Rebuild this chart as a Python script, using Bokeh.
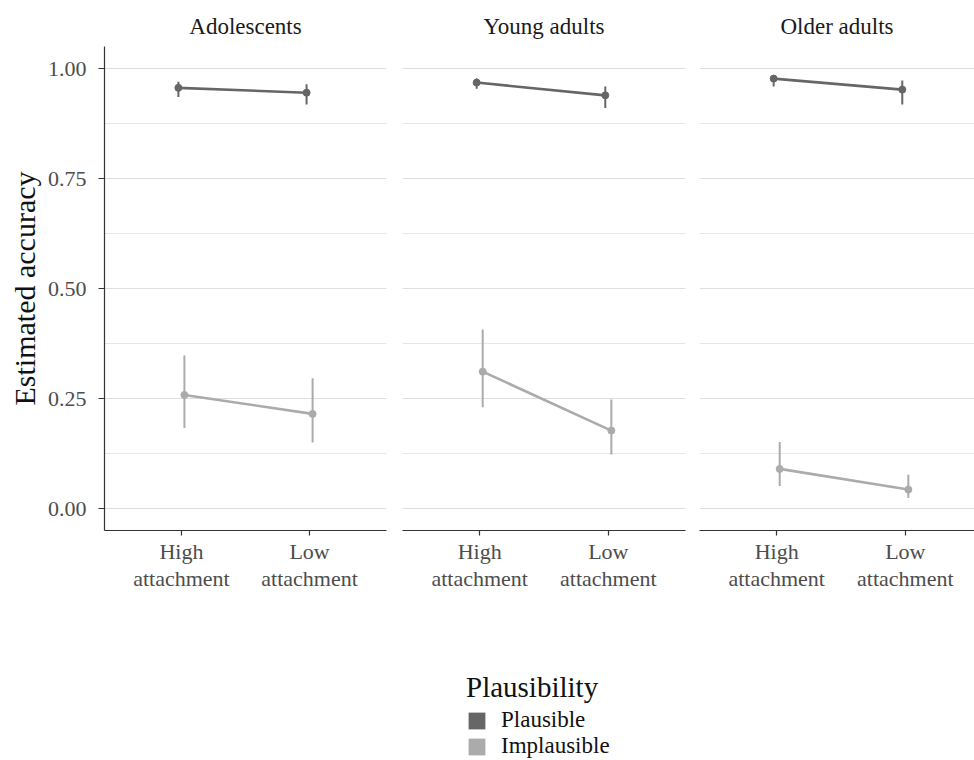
from bokeh.plotting import figure
from bokeh.models import Range1d, FixedTicker, PrintfTickFormatter, Legend, LegendItem
from bokeh.layouts import row, column
from bokeh.embed import file_html
from bokeh.resources import INLINE

# ---------------- data ----------------
age_groups = ["Adolescents", "Young adults", "Older adults"]
attachment = ["High attachment", "Low attachment"]
attachment_labels = ["High\nattachment", "Low\nattachment"]
plausibility = ["Plausible", "Implausible"]

plausible_est = [[0.956, 0.945], [0.968, 0.939], [0.977, 0.952]]
plausible_lo = [[0.935, 0.918], [0.954, 0.910], [0.959, 0.918]]
plausible_hi = [[0.970, 0.964], [0.977, 0.959], [0.984, 0.973]]

implausible_est = [[0.258, 0.215], [0.311, 0.177], [0.090, 0.043]]
implausible_lo = [[0.183, 0.150], [0.230, 0.123], [0.051, 0.024]]
implausible_hi = [[0.348, 0.296], [0.407, 0.248], [0.151, 0.077]]

y_ticks = [0.0, 0.25, 0.5, 0.75, 1.0]
y_minor = [0.125, 0.375, 0.625, 0.875]

# ---------------- styling ----------------
FONT = "Liberation Serif"
COLORS = {"Plausible": "#666666", "Implausible": "#ababab"}
DODGE = 0.047
NAN = float("nan")
series = {
    "Plausible": (plausible_est, plausible_lo, plausible_hi),
    "Implausible": (implausible_est, implausible_lo, implausible_hi),
}

# widths, borders and x-range ends for the three panels
panel_specs = [
    dict(width=394, left=104, right=8, xend=2.6),
    dict(width=298, left=8, right=7, xend=2.6),
    dict(width=282, left=7, right=0, xend=2.538),
]
TOP, BOTTOM, FRAME_H = 46, 76, 484

figs = []
for gi, (grp, spec) in enumerate(zip(age_groups, panel_specs)):
    p = figure(width=spec["width"], height=TOP + FRAME_H + BOTTOM,
               x_range=Range1d(0.4, spec["xend"]), y_range=Range1d(-0.05, 1.05),
               output_backend="svg", toolbar_location=None,
               min_border_left=spec["left"], min_border_right=spec["right"],
               min_border_top=TOP, min_border_bottom=BOTTOM,
               title=grp)
    p.outline_line_color = None
    p.title.align = "center"
    p.title.text_font = FONT
    p.title.text_font_size = "23px"
    p.title.text_font_style = "normal"
    p.title.text_color = "#1a1a1a"
    p.title.standoff = 16

    # x axis
    xa = p.xaxis[0]
    xa.ticker = FixedTicker(ticks=[1, 2])
    xa.major_label_overrides = {i + 1: lab for i, lab in enumerate(attachment_labels)}
    xa.major_label_text_font = FONT
    xa.major_label_text_font_size = "22px"
    xa.major_label_text_color = "#4d4d4d"
    xa.major_label_text_line_height = 1.1
    xa.major_tick_out = 5
    xa.major_tick_in = 0
    xa.minor_tick_out = 0
    xa.minor_tick_in = 0
    xa.major_label_standoff = 3
    xa.axis_line_color = "#333333"
    xa.axis_line_width = 1.2
    xa.major_tick_line_color = "#333333"
    xa.major_tick_line_width = 1.2
    p.xgrid.visible = False

    # y axis
    ya = p.yaxis[0]
    ya.ticker = FixedTicker(ticks=y_ticks, minor_ticks=y_minor)
    ya.formatter = PrintfTickFormatter(format="%.2f")
    p.ygrid.grid_line_color = "#dedede"
    p.ygrid.grid_line_width = 1
    p.ygrid.minor_grid_line_color = "#e6e6e6"
    p.ygrid.minor_grid_line_width = 1
    if gi == 0:
        ya.axis_label = "Estimated accuracy"
        ya.axis_label_text_font = FONT
        ya.axis_label_text_font_size = "30px"
        ya.axis_label_text_font_style = "normal"
        ya.axis_label_text_color = "#111111"
        ya.axis_label_standoff = 4
        ya.major_label_text_font = FONT
        ya.major_label_text_font_size = "22px"
        ya.major_label_text_color = "#4d4d4d"
        ya.major_tick_out = 6
        ya.major_tick_in = 0
        ya.minor_tick_out = 0
        ya.minor_tick_in = 0
        ya.major_label_standoff = 12
        ya.axis_line_color = "#333333"
        ya.axis_line_width = 1.2
        ya.major_tick_line_color = "#333333"
        ya.major_tick_line_width = 1.2
    else:
        ya.visible = False

    for si, name in enumerate(plausibility):
        est, lo, hi = series[name]
        off = (si - 0.5) * DODGE
        xs = [attachment.index(a) + 1 + off for a in attachment]
        col = COLORS[name]
        p.segment(x0=xs, y0=lo[gi], x1=xs, y1=hi[gi], line_color=col, line_width=2)
        p.line(xs, est[gi], line_color=col, line_width=2.6)
        p.scatter(xs, est[gi], size=7, fill_color=col, line_color=col)
    figs.append(p)

# ---------------- legend strip ----------------
LEG_H = 760 - (TOP + FRAME_H + BOTTOM)
leg = figure(width=974, height=LEG_H, x_range=Range1d(0, 1), y_range=Range1d(0, 1),
             output_backend="svg", toolbar_location=None,
             x_axis_location=None, y_axis_location=None,
             min_border=0)
leg.outline_line_color = None
leg.xgrid.visible = False
leg.ygrid.visible = False

legend_style = dict(
    label_text_font=FONT, label_text_font_size="23px", label_text_color="#111111",
    label_height=17, glyph_width=21, glyph_height=21, label_standoff=14, spacing=0,
    padding=0, margin=0, border_line_color=None, background_fill_alpha=0,
)
legend_locations = [(466, 27), (466, 1)]
for i, name in enumerate(plausibility):
    r = leg.quad(left=[NAN], right=[NAN], top=[NAN], bottom=[NAN],
                 fill_color=COLORS[name], line_color=None)
    kw = dict(legend_style)
    if i == 0:
        kw.update(title="Plausibility", title_text_font=FONT, title_text_font_size="29px",
                  title_text_font_style="normal", title_text_color="#111111", title_standoff=3)
    lg = Legend(items=[LegendItem(label=name, renderers=[r])],
                location=legend_locations[i], **kw)
    leg.add_layout(lg, "center")

layout = column(row(*figs), leg)
open("out.html", "w").write(file_html(layout, INLINE))
